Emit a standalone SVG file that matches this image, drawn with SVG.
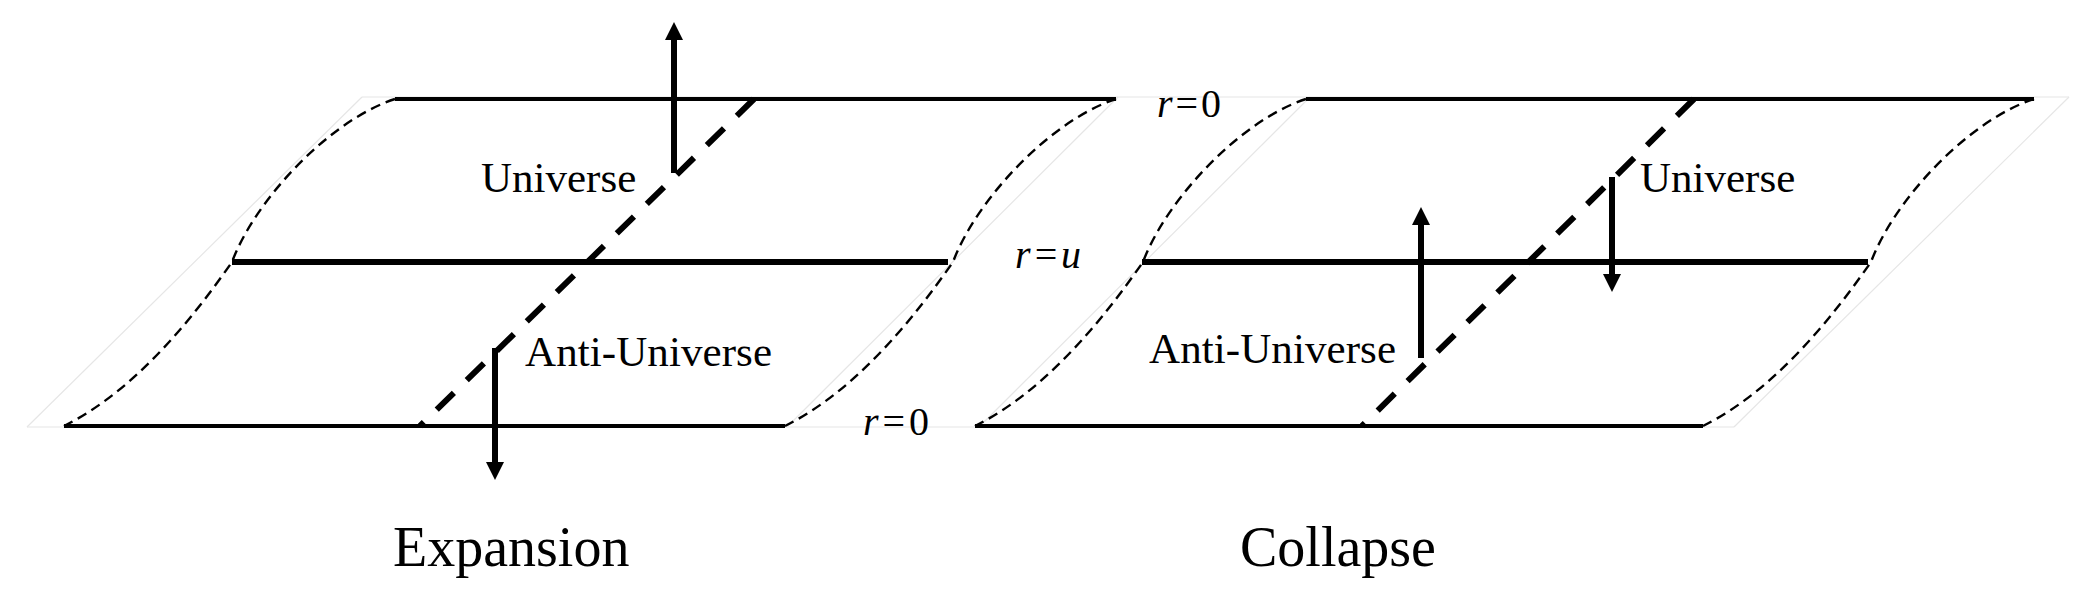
<svg xmlns="http://www.w3.org/2000/svg" width="2090" height="597" viewBox="0 0 2090 597">
<style>
.faint{stroke:#e6e6e6;stroke-width:1.2;fill:none}
.edge{stroke:#000;stroke-width:4;fill:none}
.mid{stroke:#000;stroke-width:6;fill:none}
.curve{stroke:#000;stroke-width:2.4;fill:none;stroke-dasharray:10 6}
.diag{stroke:#000;stroke-width:6;fill:none;stroke-dasharray:24 18}
.arrow{stroke:#000;stroke-width:6;fill:none;marker-end:url(#head)}
.lbl{font-family:"Liberation Serif","Times New Roman",serif;font-size:43px;fill:#000}
.title{font-family:"Liberation Serif","Times New Roman",serif;font-size:56px;fill:#000}
.rv{font-family:"Liberation Serif","Times New Roman",serif;font-size:40px;fill:#000}
</style>
<defs>
<marker id="head" viewBox="0 0 18 18" markerWidth="18" markerHeight="18" refX="0" refY="9" orient="auto" markerUnits="userSpaceOnUse">
<path d="M0,0 L18,9 L0,18 z" fill="#000"/>
</marker>
<path id="scurve" d="M0 99 C-65 120 -140 200 -163 262 C-205 322 -261 391 -331 426"/>
</defs>
<rect width="2090" height="597" fill="#fff"/>
<g id="faint-lines">
<line class="faint" x1="362" y1="97" x2="2069" y2="97"/>
<line class="faint" x1="27" y1="427" x2="1734" y2="427"/>
<line class="faint" x1="362" y1="97" x2="27" y2="427"/>
<line class="faint" x1="1118" y1="97" x2="787" y2="427"/>
<line class="faint" x1="1310" y1="97" x2="979" y2="427"/>
<line class="faint" x1="2069" y1="97" x2="1734" y2="427"/>
</g>
<g id="expansion-panel">
<line class="edge" x1="395" y1="99" x2="1116" y2="99"/>
<line class="mid" x1="232" y1="262" x2="948" y2="262"/>
<line class="edge" x1="64" y1="426" x2="785" y2="426"/>
<use href="#scurve" class="curve" x="395"/>
<use href="#scurve" class="curve" x="1116"/>
</g>
<g id="collapse-panel">
<line class="edge" x1="1306" y1="99" x2="2034" y2="99"/>
<line class="mid" x1="1142" y1="262" x2="1868" y2="262"/>
<line class="edge" x1="975" y1="426" x2="1703" y2="426"/>
<use href="#scurve" class="curve" x="1306"/>
<use href="#scurve" class="curve" x="2034"/>
</g>
<g id="connectors">
<line class="diag" x1="754" y1="99" x2="420" y2="426"/>
<line class="diag" x1="1694" y1="99" x2="1362" y2="426"/>
<line class="arrow" x1="674" y1="173" x2="674" y2="40"/>
<line class="arrow" x1="495" y1="348" x2="495" y2="462"/>
<line class="arrow" x1="1612" y1="177" x2="1612" y2="274"/>
<line class="arrow" x1="1421" y1="358" x2="1421" y2="225"/>
</g>
<g id="labels">
<text class="lbl" x="481" y="192">Universe</text>
<text class="lbl" x="525" y="366" textLength="247">Anti-Universe</text>
<text class="lbl" x="1640" y="192">Universe</text>
<text class="lbl" x="1149" y="363" textLength="247">Anti-Universe</text>
<text class="rv" x="1157" y="117" textLength="64" lengthAdjust="spacing"><tspan font-style="italic">r</tspan>=0</text>
<text class="rv" x="1015" y="268" textLength="66" lengthAdjust="spacing" font-style="italic">r=u</text>
<text class="rv" x="863" y="435" textLength="66" lengthAdjust="spacing"><tspan font-style="italic">r</tspan>=0</text>
<text class="title" x="393" y="566">Expansion</text>
<text class="title" x="1240" y="566">Collapse</text>
</g>
</svg>
